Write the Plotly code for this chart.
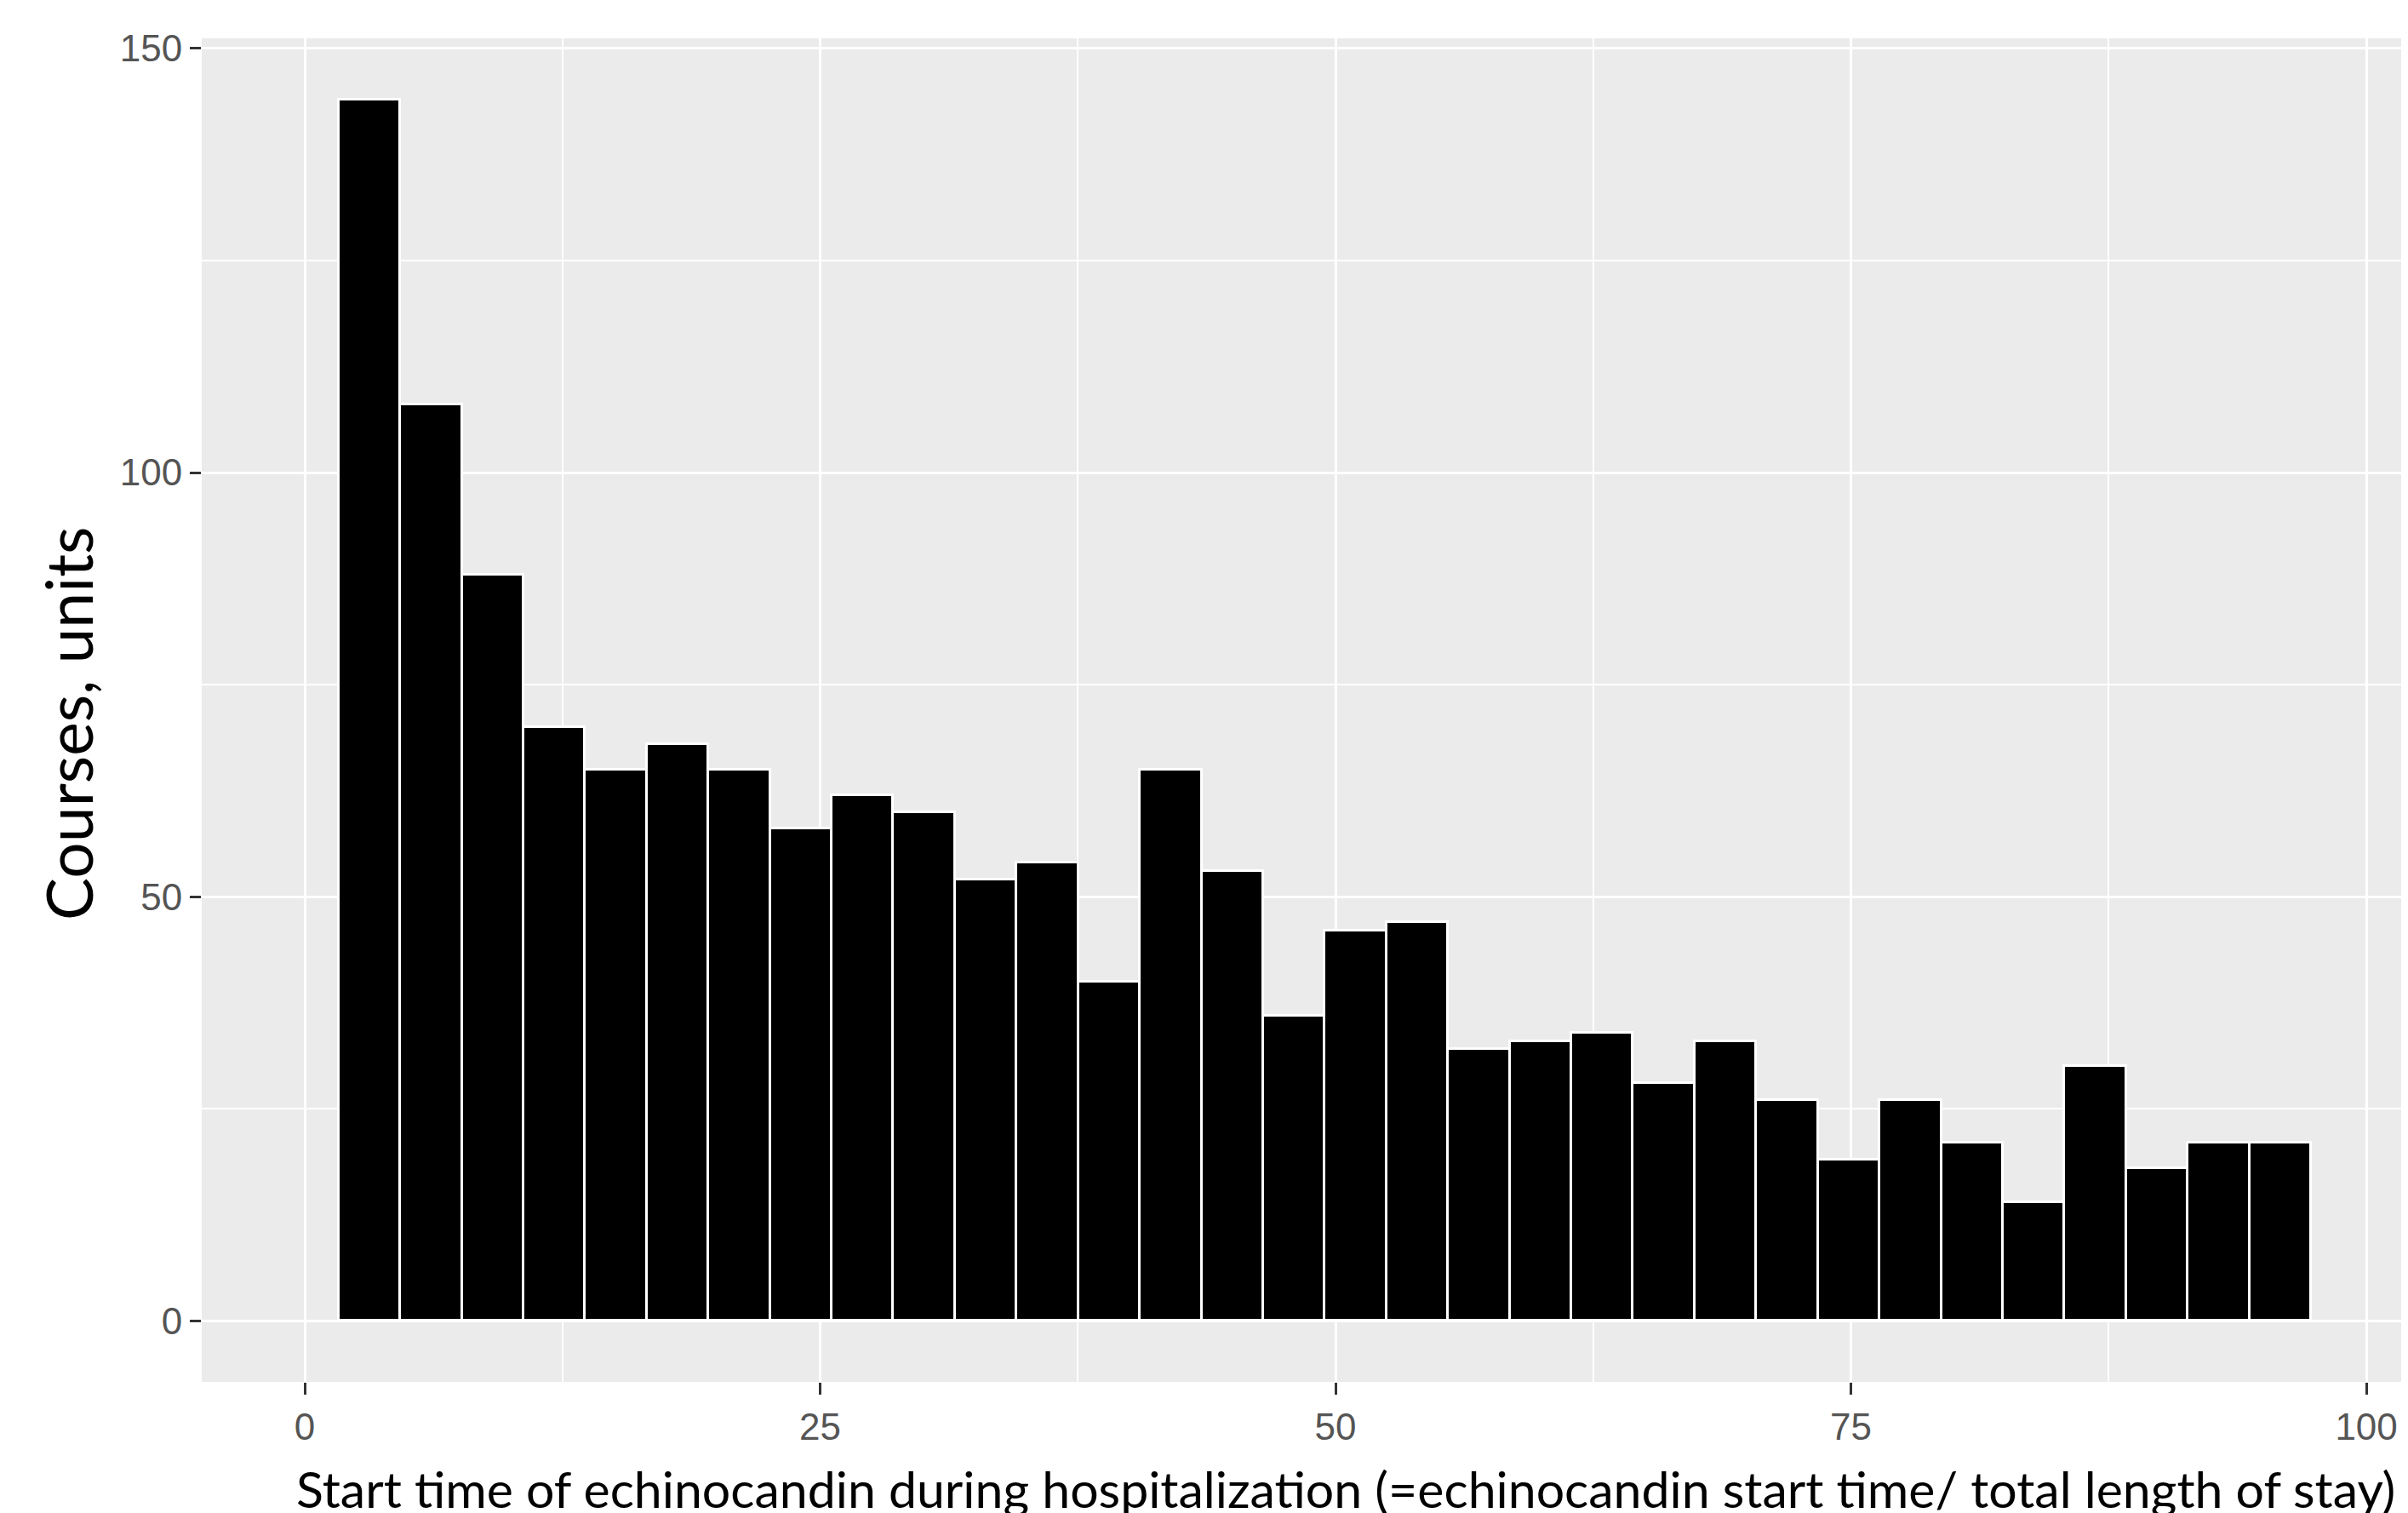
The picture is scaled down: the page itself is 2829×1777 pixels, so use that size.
import plotly.graph_objects as go

# Histogram bins (centres, in % of stay) and counts
bin_centers = [3.13, 6.12, 9.11, 12.10, 15.09, 18.08, 21.07, 24.06, 27.05, 30.04,
               33.03, 36.02, 39.01, 42.00, 44.99, 47.98, 50.97, 53.96, 56.95, 59.94,
               62.93, 65.92, 68.91, 71.90, 74.89, 77.88, 80.87, 83.86, 86.85, 89.84,
               92.83, 95.82]
bin_width = 2.99
counts = [144, 108, 88, 70, 65, 68, 65, 58, 62, 60,
          52, 54, 40, 65, 53, 36, 46, 47, 32, 33,
          34, 28, 33, 26, 19, 26, 21, 14, 30, 18,
          21, 21]

x_ticks = [0, 25, 50, 75, 100]
y_ticks = [0, 50, 100, 150]
x_title = "Start time of echinocandin during hospitalization (=echinocandin start time/ total length of stay)"
y_title = "Courses, units"

# The page body has an 8px default margin; compensate so the plot lands where the reference has it.
OFF = 8
W, H = 2829 - OFF, 1777 - OFF
ML, MR, MT, MB = 237 - OFF, 0, 45 - OFF, 154

fig = go.Figure()
fig.add_trace(go.Bar(
    x=bin_centers, y=counts, width=bin_width,
    marker=dict(color="black", line=dict(color="white", width=3)),
    showlegend=False,
))

tickfont = dict(family="Liberation Sans, Arial, sans-serif", size=44, color="#555555")

fig.update_layout(
    width=W, height=H,
    margin=dict(l=ML, r=MR, t=MT, b=MB, pad=0),
    paper_bgcolor="white",
    plot_bgcolor="#EBEBEB",
    bargap=0,
    xaxis=dict(
        range=[-5, 102.02], tickvals=x_ticks, ticktext=[str(v) for v in x_ticks],
        showgrid=True, gridcolor="white", gridwidth=3,
        minor=dict(dtick=12.5, tick0=0, showgrid=True, gridcolor="white", gridwidth=1.5),
        ticks="outside", ticklen=14, tickwidth=2.5, tickcolor="#333333",
        tickfont=tickfont, zeroline=False, showline=False,
    ),
    yaxis=dict(
        range=[-7.2, 151.2], tickvals=y_ticks, ticktext=[str(v) for v in y_ticks],
        showgrid=True, gridcolor="white", gridwidth=3,
        minor=dict(dtick=25, tick0=0, showgrid=True, gridcolor="white", gridwidth=1.5),
        ticks="outside", ticklen=13, tickwidth=2.5, tickcolor="#333333",
        tickfont=tickfont, zeroline=False, showline=False,
    ),
)

plot_w = W - ML - MR
plot_h = H - MT - MB

def px_to_paper_x(px):
    # px given in screenshot coordinates
    return (px - OFF - ML) / plot_w

def px_to_paper_y(py):
    return (H - MB - (py - OFF)) / plot_h

fig.add_annotation(
    text=x_title, xref="paper", yref="paper",
    x=px_to_paper_x(346), y=px_to_paper_y(1748),
    xanchor="left", yanchor="middle", showarrow=False,
    font=dict(family="Lato, sans-serif", size=59, color="black"),
)
fig.add_annotation(
    text=y_title, xref="paper", yref="paper",
    x=px_to_paper_x(80), y=px_to_paper_y(850),
    xanchor="center", yanchor="middle", showarrow=False, textangle=-90,
    font=dict(family="Lato, sans-serif", size=75, color="black"),
)

fig.write_html("out.html")
